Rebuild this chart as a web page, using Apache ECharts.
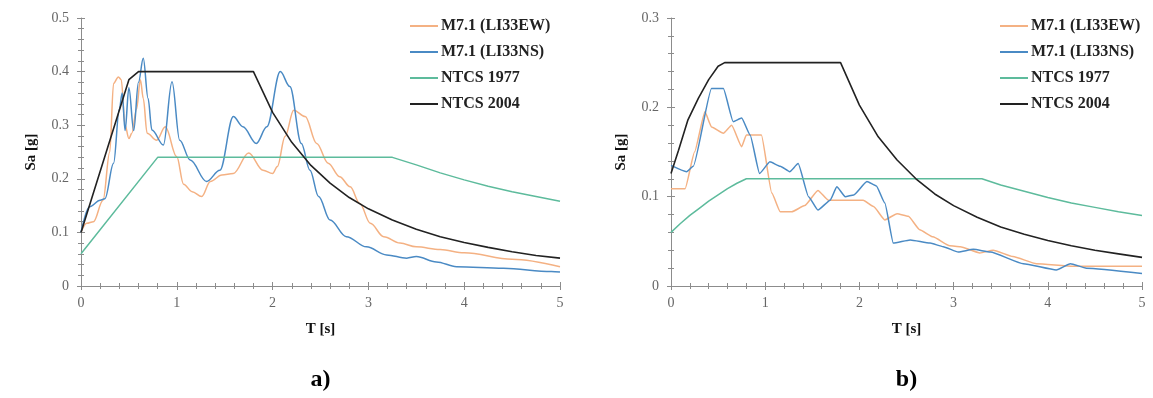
<!DOCTYPE html>
<html>
<head>
<meta charset="utf-8">
<script src="https://cdn.jsdelivr.net/npm/echarts@6/dist/echarts.min.js"></script>
<style>html,body{margin:0;padding:0;background:#fff}#c{width:1153px;height:398px}</style>
</head>
<body>
<div id="c"></div>
<script>
// ---- Data: panel a) ----
const tEW_a  = [0, 0.06, 0.13, 0.23, 0.30, 0.34, 0.39, 0.42, 0.46, 0.50, 0.53, 0.58, 0.62, 0.65, 0.69, 0.79, 0.88, 1.0, 1.07, 1.16, 1.26, 1.35, 1.47, 1.59, 1.75, 1.9, 2.0, 2.05, 2.13, 2.22, 2.34, 2.46, 2.58, 2.70, 2.81, 2.91, 3.02, 3.16, 3.33, 3.5, 3.75, 4.0, 4.5, 5.0];
const saEW_a = [0.1, 0.117, 0.12, 0.16, 0.25, 0.378, 0.39, 0.385, 0.30, 0.275, 0.285, 0.33, 0.385, 0.35, 0.285, 0.272, 0.297, 0.241, 0.19, 0.176, 0.167, 0.195, 0.207, 0.21, 0.248, 0.216, 0.21, 0.223, 0.279, 0.328, 0.316, 0.266, 0.229, 0.204, 0.185, 0.154, 0.117, 0.092, 0.08, 0.073, 0.068, 0.062, 0.05, 0.036];
const tNS_a  = [0, 0.09, 0.2, 0.25, 0.34, 0.40, 0.43, 0.46, 0.50, 0.55, 0.60, 0.65, 0.70, 0.74, 0.86, 0.95, 1.03, 1.14, 1.31, 1.45, 1.59, 1.69, 1.83, 1.94, 2.08, 2.18, 2.30, 2.39, 2.48, 2.6, 2.77, 2.98, 3.19, 3.40, 3.5, 3.71, 3.92, 4.41, 4.91, 5.0];
const saNS_a = [0.1, 0.148, 0.16, 0.163, 0.229, 0.33, 0.36, 0.29, 0.37, 0.29, 0.38, 0.425, 0.35, 0.291, 0.263, 0.381, 0.272, 0.235, 0.195, 0.216, 0.316, 0.297, 0.266, 0.297, 0.40, 0.372, 0.266, 0.216, 0.167, 0.123, 0.092, 0.073, 0.058, 0.052, 0.055, 0.045, 0.036, 0.033, 0.027, 0.026];
const t77_a  = [0, 0.8, 3.25, 3.5, 3.75, 4.0, 4.25, 4.5, 4.75, 5.0];
const sa77_a = [0.06, 0.24, 0.24, 0.226, 0.211, 0.198, 0.186, 0.176, 0.167, 0.158];
const t04_a  = [0, 0.5, 0.6, 1.8, 2.0, 2.2, 2.4, 2.6, 2.8, 3.0, 3.25, 3.5, 3.75, 4.0, 4.25, 4.5, 4.75, 5.0];
const sa04_a = [0.1, 0.385, 0.4, 0.4, 0.324, 0.268, 0.225, 0.192, 0.165, 0.144, 0.123, 0.106, 0.092, 0.081, 0.072, 0.064, 0.057, 0.052];

// ---- Data: panel b) ----
const tEW_b  = [0, 0.15, 0.25, 0.36, 0.43, 0.556, 0.644, 0.75, 0.80, 0.96, 1.07, 1.16, 1.28, 1.42, 1.56, 1.67, 2.04, 2.15, 2.27, 2.4, 2.52, 2.64, 2.78, 2.96, 3.07, 3.28, 3.42, 3.63, 3.88, 4.27, 5.0];
const saEW_b = [0.109, 0.109, 0.15, 0.195, 0.178, 0.171, 0.18, 0.156, 0.169, 0.169, 0.104, 0.083, 0.083, 0.09, 0.107, 0.096, 0.096, 0.089, 0.074, 0.081, 0.078, 0.063, 0.055, 0.045, 0.044, 0.037, 0.04, 0.033, 0.025, 0.022, 0.022];
const tNS_b  = [0, 0.166, 0.237, 0.43, 0.556, 0.66, 0.75, 0.84, 0.94, 1.05, 1.16, 1.26, 1.35, 1.46, 1.56, 1.69, 1.76, 1.85, 1.94, 2.08, 2.18, 2.27, 2.36, 2.54, 2.75, 2.89, 3.05, 3.21, 3.39, 3.74, 4.09, 4.24, 4.41, 5.0];
const saNS_b = [0.135, 0.128, 0.134, 0.221, 0.221, 0.184, 0.188, 0.169, 0.126, 0.139, 0.134, 0.128, 0.137, 0.1, 0.085, 0.096, 0.111, 0.1, 0.102, 0.117, 0.112, 0.093, 0.048, 0.0515, 0.048, 0.044, 0.038, 0.041, 0.038, 0.025, 0.018, 0.025, 0.02, 0.014];
const t77_b  = [0, 0.1, 0.2, 0.3, 0.4, 0.5, 0.6, 0.7, 0.8, 3.3, 3.5, 3.75, 4.0, 4.25, 4.5, 4.75, 5.0];
const sa77_b = [0.06, 0.07, 0.079, 0.087, 0.095, 0.102, 0.109, 0.115, 0.12, 0.12, 0.113, 0.106, 0.099, 0.093, 0.088, 0.083, 0.079];
const t04_b  = [0, 0.08, 0.18, 0.29, 0.40, 0.50, 0.57, 1.8, 2.0, 2.2, 2.4, 2.6, 2.8, 3.0, 3.25, 3.5, 3.75, 4.0, 4.25, 4.5, 4.75, 5.0];
const sa04_b = [0.126, 0.152, 0.186, 0.21, 0.231, 0.246, 0.25, 0.25, 0.2025, 0.167, 0.141, 0.12, 0.103, 0.09, 0.077, 0.066, 0.058, 0.051, 0.045, 0.04, 0.036, 0.032];

const seriesNames = ['M7.1 (LI33EW)', 'M7.1 (LI33NS)', 'NTCS 1977', 'NTCS 2004'];
const seriesColors = ['#F4B183', '#4A8AC4', '#5DBB9C', '#222222'];
const panelLabels = ['a)', 'b)'];
const xTitle = 'T [s]';
const yTitle = 'Sa [g]';
const yMaxes = [0.5, 0.3];

const zip = (t, s) => t.map((v, i) => [v, s[i]]);
const panels = [
  [zip(tEW_a, saEW_a), zip(tNS_a, saNS_a), zip(t77_a, sa77_a), zip(t04_a, sa04_a)],
  [zip(tEW_b, saEW_b), zip(tNS_b, saNS_b), zip(t77_b, sa77_b), zip(t04_b, sa04_b)]
];

const FONT = '"Liberation Serif", "DejaVu Serif", serif';
const grids = [
  { left: 81, top: 18, width: 479, height: 268 },
  { left: 671, top: 18, width: 471, height: 268 }
];
const axisGray = '#8c8c8c';

const xAxes = [], yAxes = [];
grids.forEach((g, i) => {
  xAxes.push({
    type: 'value', gridIndex: i, min: 0, max: 5, interval: 1,
    name: xTitle, nameLocation: 'middle', nameGap: 36,
    nameTextStyle: { fontFamily: FONT, fontWeight: 'bold', fontSize: 15, color: '#111' },
    axisLine: { show: true, lineStyle: { color: axisGray, width: 1 } },
    axisTick: { show: true, length: 4, lineStyle: { color: axisGray } },
    minorTick: { show: true, splitNumber: 5, length: 3, lineStyle: { color: axisGray } },
    splitLine: { show: false },
    axisLabel: { fontFamily: FONT, fontSize: 14, color: '#666', margin: 10 }
  });
  yAxes.push({
    type: 'value', gridIndex: i, min: 0, max: yMaxes[i], interval: 0.1,
    name: yTitle, nameLocation: 'middle', nameGap: 42, nameRotate: 90,
    nameTextStyle: { fontFamily: FONT, fontWeight: 'bold', fontSize: 15, color: '#111' },
    axisLine: { show: true, lineStyle: { color: axisGray, width: 1 } },
    axisTick: { show: true, length: 4, lineStyle: { color: axisGray } },
    minorTick: { show: true, splitNumber: 5, length: 3, lineStyle: { color: axisGray } },
    splitLine: { show: false },
    axisLabel: { fontFamily: FONT, fontSize: 14, color: '#666', margin: 12 }
  });
});
// inner tick copies (ticks cross the axis line)
grids.forEach((g, i) => {
  xAxes.push({
    type: 'value', gridIndex: i, min: 0, max: 5, interval: 1, position: 'bottom',
    axisLine: { show: false },
    axisTick: { show: true, inside: true, length: 4, lineStyle: { color: axisGray } },
    minorTick: { show: true, splitNumber: 5, length: 3, lineStyle: { color: axisGray } },
    splitLine: { show: false }, axisLabel: { show: false }
  });
  yAxes.push({
    type: 'value', gridIndex: i, min: 0, max: yMaxes[i], interval: 0.1, position: 'left',
    axisLine: { show: false },
    axisTick: { show: true, inside: true, length: 4, lineStyle: { color: axisGray } },
    minorTick: { show: true, splitNumber: 5, length: 3, lineStyle: { color: axisGray } },
    splitLine: { show: false }, axisLabel: { show: false }
  });
});

const series = [];
panels.forEach((data, p) => {
  data.forEach((d, k) => {
    series.push({
      name: seriesNames[k], type: 'line', xAxisIndex: p, yAxisIndex: p,
      data: d, symbol: 'none', showSymbol: false,
      smooth: (k < 2 && p === 0) ? 0.35 : (k < 2 ? 0.15 : false),
      smoothMonotone: 'x',
      lineStyle: { width: k === 3 ? 1.6 : 1.5, color: seriesColors[k] },
      itemStyle: { color: seriesColors[k] },
      z: k === 3 ? 5 : 3
    });
  });
});

const legends = [405, 995].map(l => ({
  data: seriesNames, orient: 'vertical', left: l, top: 13,
  icon: 'rect', itemWidth: 28, itemHeight: 2, itemGap: 10,
  textStyle: { fontFamily: FONT, fontWeight: 'bold', fontSize: 16, color: '#222', padding: [0, 0, 0, -2] },
  selectedMode: false
}));

const chart = echarts.init(document.getElementById('c'), null, { renderer: 'canvas' });
chart.setOption({
  backgroundColor: '#fff',
  animation: false,
  grid: grids,
  xAxis: xAxes,
  yAxis: yAxes,
  legend: legends,
  series: series,
  graphic: panelLabels.map((txt, i) => ({
    type: 'text', x: grids[i].left + grids[i].width / 2, y: 380,
    style: { text: txt, fontFamily: FONT, fontWeight: 'bold', fontSize: 24, fill: '#000', align: 'center', verticalAlign: 'middle' }
  }))
});
</script>
</body>
</html>
